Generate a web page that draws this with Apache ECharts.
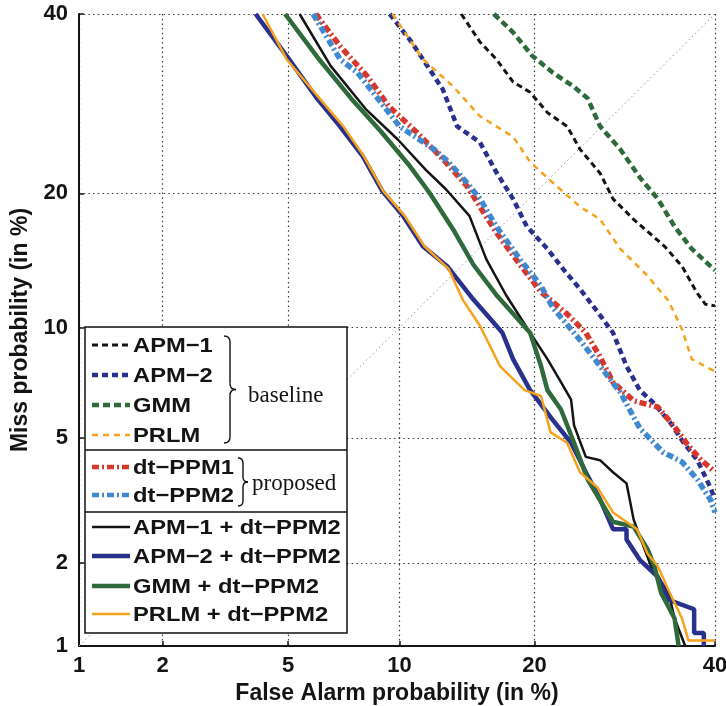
<!DOCTYPE html>
<html><head><meta charset="utf-8">
<script src="https://cdn.jsdelivr.net/npm/echarts@6/dist/echarts.min.js"></script>
<style>html,body{margin:0;padding:0;background:#fff}#c{width:726px;height:706px}</style>
</head><body><div id="c"></div>
<script>
// ---- data: [False Alarm %, Miss %] ----
const tickLabels = [1, 2, 5, 10, 20, 40];
const diagonal = [[1, 1], [40, 40]];
const apm1Base = [[14.0,40],[15.4,36.5],[16.7,34.4],[18.1,31.7],[19.6,30.5],[21.2,28.2],[23.1,26.7],[24.4,24.3],[26.5,21.9],[27.9,19.5],[30.2,17.7],[33.8,15.5],[35.9,14.0],[37.8,12.1],[38.8,11.4],[40,11.3]];
const apm2Base = [[9.45,40],[10.7,36.5],[12.7,30.85],[13.7,26.7],[15.4,25.0],[16.7,22.0],[18.1,19.5],[19.3,17.1],[21.2,15.3],[22.7,13.8],[24.4,12.4],[26.2,10.95],[27.9,9.7],[29.4,7.95],[30.9,6.85],[32.4,6.35],[34.5,5.55],[36.1,4.85],[37.8,4.3],[39.4,3.55],[40,3.25]];
const gmmBase = [[16.5,40],[18.1,37.7],[19.8,34.8],[21.7,32.8],[23.7,31.2],[25.2,29.8],[26.5,26.7],[28.7,24.3],[30.9,21.5],[33.0,19.5],[35.0,17.1],[37.1,15.3],[39.8,13.8],[40,13.7]];
const prlmBase = [[9.6,40],[11.4,34.4],[13.4,31.2],[15.4,27.8],[18.1,25.6],[19.6,23.0],[21.7,21.0],[24.4,18.8],[26.5,17.7],[28.7,15.3],[31.8,13.3],[34.3,11.6],[35.9,9.9],[37.1,8.3],[39.2,7.85],[40,7.7]];
const dtPpm1 = [[6.0,40],[7.0,36.0],[8.3,32.3],[9.4,28.9],[11.0,26.1],[12.7,23.3],[14.4,20.7],[15.4,18.8],[16.7,16.6],[18.7,14.1],[20.6,12.2],[23.1,10.8],[25.0,9.7],[26.4,8.5],[27.9,7.2],[30.2,6.4],[33.0,6.15],[35.0,5.4],[36.7,4.75],[38.3,4.3],[39.8,4.0]];
const dtPpm2 = [[5.9,40],[7.0,34.4],[7.8,32.8],[10.0,26.7],[12.1,24.3],[13.1,23.0],[14.4,21.0],[15.4,19.5],[16.7,17.1],[18.7,14.5],[20.6,12.6],[21.7,11.2],[24.4,9.3],[26.5,7.95],[28.7,6.75],[30.9,5.35],[33.6,4.55],[35.9,4.25],[37.8,3.75],[39.4,3.25],[40,2.95]];
const apm1Fused = [[5.4,40],[6.6,33.6],[8.2,28.6],[9.9,25.3],[11.6,22.2],[12.9,20.4],[14.6,18.0],[15.9,14.5],[17.5,12.0],[19.4,9.9],[21.2,8.3],[22.5,7.2],[23.5,6.45],[23.8,5.45],[25.0,4.4],[26.5,4.3],[27.9,3.95],[29.4,3.65],[30.2,2.8],[31.4,2.25],[32.2,1.95],[34.3,1.57],[35.0,1.27],[36.3,1.0]];
const apm2Fused = [[4.0,40],[4.95,34.8],[6.05,29.8],[7.0,26.7],[8.05,23.6],[9.05,20.2],[10.2,18.0],[11.4,15.5],[13.0,14.0],[14.9,11.7],[17.2,9.7],[18.1,8.3],[19.6,6.85],[21.7,5.65],[23.5,4.85],[25.2,3.85],[26.5,3.25],[27.9,2.6],[29.4,2.6],[29.4,2.4],[30.9,2.05],[33.0,1.79],[34.3,1.48],[37.4,1.37],[37.4,1.12],[38.6,1.12],[38.6,1.0]];
const gmmFused = [[4.9,40],[6.05,34.7],[7.5,29.8],[9.0,26.1],[10.6,22.6],[11.8,20.1],[13.5,16.7],[14.9,14.1],[16.7,12.0],[19.6,9.7],[20.6,7.95],[21.2,6.85],[22.5,6.05],[23.8,4.85],[25.2,3.75],[27.9,2.75],[30.2,2.65],[31.8,2.23],[32.6,1.95],[33.4,1.57],[35.0,1.27],[35.5,1.0]];
const prlmFused = [[4.2,40],[4.95,34.4],[6.15,29.8],[7.15,26.7],[8.1,23.6],[9.1,20.2],[10.3,18.0],[11.5,15.5],[13.1,13.8],[14.1,11.7],[15.4,10.1],[17.0,7.95],[19.1,6.85],[20.6,6.6],[21.5,5.2],[23.1,4.85],[24.4,3.95],[26.2,3.55],[27.9,2.95],[30.6,2.6],[31.8,2.15],[33.0,1.95],[34.3,1.6],[35.9,1.27],[36.7,1.05],[40,1.05]];

// ---- inverse normal CDF (DET / probit scale) ----
function probit(p){
  const a=[-3.969683028665376e+01,2.209460984245205e+02,-2.759285104469687e+02,1.383577518672690e+02,-3.066479806614716e+01,2.506628277459239e+00];
  const b=[-5.447609879822406e+01,1.615858368580409e+02,-1.556989798598866e+02,6.680131188771972e+01,-1.328068155288572e+01];
  const c=[-7.784894002430293e-03,-3.223964580411365e-01,-2.400758277161838e+00,-2.549732539343734e+00,4.374664141464968e+00,2.938163982698783e+00];
  const d=[7.784695709041462e-03,3.224671290700398e-01,2.445134137142996e+00,3.754408661907416e+00];
  const pl=0.02425; let q,r;
  if(p<pl){q=Math.sqrt(-2*Math.log(p));return (((((c[0]*q+c[1])*q+c[2])*q+c[3])*q+c[4])*q+c[5])/((((d[0]*q+d[1])*q+d[2])*q+d[3])*q+1);}
  if(p>1-pl){q=Math.sqrt(-2*Math.log(1-p));return -(((((c[0]*q+c[1])*q+c[2])*q+c[3])*q+c[4])*q+c[5])/((((d[0]*q+d[1])*q+d[2])*q+d[3])*q+1);}
  q=p-0.5;r=q*q;
  return (((((a[0]*r+a[1])*r+a[2])*r+a[3])*r+a[4])*r+a[5])*q/(((((b[0]*r+b[1])*r+b[2])*r+b[3])*r+b[4])*r+1);
}
const toZ = pts => pts.map(([x,y]) => [probit(x/100), probit(y/100)]);
const tickZ = tickLabels.map(v => probit(v/100));
const zMin = probit(tickLabels[0]/100), zMax = probit(tickLabels[tickLabels.length-1]/100);
function fmt(v){ let best=0, bd=1e9; tickZ.forEach((z,i)=>{const dd=Math.abs(z-v); if(dd<bd){bd=dd;best=i;}}); return String(tickLabels[best]); }

const C = {black:'#141414', navy:'#2a318c', green:'#2e6a3b', orange:'#f6a21c', red:'#d8372b', lblue:'#3f89d0'};
const DD = [7,3,2,3];
const defs = [
  {name:'APM−1', data:apm1Base, color:C.black, width:3, dash:[6,4]},
  {name:'APM−2', data:apm2Base, color:C.navy, width:4.5, dash:[6,4]},
  {name:'GMM', data:gmmBase, color:C.green, width:4.5, dash:[7,4]},
  {name:'PRLM', data:prlmBase, color:C.orange, width:2.5, dash:[6,5]},
  {name:'dt−PPM1', data:dtPpm1, color:C.red, width:5.5, dash:DD},
  {name:'dt−PPM2', data:dtPpm2, color:C.lblue, width:5.5, dash:DD},
  {name:'APM−1 + dt−PPM2', data:apm1Fused, color:C.black, width:2.5, dash:'solid'},
  {name:'APM−2 + dt−PPM2', data:apm2Fused, color:C.navy, width:4.5, dash:'solid'},
  {name:'GMM + dt−PPM2', data:gmmFused, color:C.green, width:4.5, dash:'solid'},
  {name:'PRLM + dt−PPM2', data:prlmFused, color:C.orange, width:2.5, dash:'solid'}
];

const series = [{
  type:'line', name:'diag', data:toZ(diagonal), symbol:'none', silent:true, z:1,
  lineStyle:{color:'#9a9a9a', width:1, type:[1.5,3]}
}].concat(defs.map((d,i)=>({
  type:'line', name:d.name, data:toZ(d.data), symbol:'none', z:2+i,
  lineStyle:{color:d.color, width:d.width, type:d.dash}
})));

// ---- custom legend ----
const LF = 'bold 21px "Liberation Sans", Arial, Helvetica, sans-serif';
const legendY = [345, 375, 405, 435, 467, 495, 527, 556, 586, 614];
const g = [
  {type:'rect', shape:{x:85,y:327,width:262,height:306}, style:{fill:'#fff', stroke:'#111', lineWidth:1.5}, z:100},
  {type:'line', shape:{x1:85,y1:450,x2:347,y2:450}, style:{stroke:'#111', lineWidth:1.5}, z:101},
  {type:'line', shape:{x1:85,y1:512,x2:347,y2:512}, style:{stroke:'#111', lineWidth:1.5}, z:101}
];
defs.forEach((d,i)=>{
  const y = legendY[i];
  g.push({type:'line', shape:{x1:92,y1:y,x2:130,y2:y}, style:{stroke:d.color, lineWidth:Math.min(d.width,4.5), lineDash: d.dash==='solid'?null:d.dash}, z:102});
  g.push({type:'text', x:133, y:y+1, scaleX:1.13, style:{text:d.name, x:0, y:0, font:LF, fill:'#141414', align:'left', verticalAlign:'middle'}, z:102});
});
function brace(x0, top, bot, w){
  const xm = x0 + w/2, mid = (top+bot)/2, r = w/2, st = {stroke:'#111', lineWidth:1.4, fill:null};
  return [
    {type:'bezierCurve', shape:{x1:x0,y1:top,cpx1:xm,cpy1:top,x2:xm,y2:top+r}, style:st, z:102},
    {type:'line', shape:{x1:xm,y1:top+r,x2:xm,y2:mid-r}, style:st, z:102},
    {type:'bezierCurve', shape:{x1:xm,y1:mid-r,cpx1:xm,cpy1:mid,x2:x0+w,y2:mid}, style:st, z:102},
    {type:'bezierCurve', shape:{x1:x0+w,y1:mid,cpx1:xm,cpy1:mid,x2:xm,y2:mid+r}, style:st, z:102},
    {type:'line', shape:{x1:xm,y1:mid+r,x2:xm,y2:bot-r}, style:st, z:102},
    {type:'bezierCurve', shape:{x1:xm,y1:bot-r,cpx1:xm,cpy1:bot,x2:x0,y2:bot}, style:st, z:102}
  ];
}
g.push(...brace(224, 336, 443, 12));
g.push(...brace(238, 458, 506, 10));
const SF = '23px "Liberation Serif", "Times New Roman", serif';
g.push({type:'text', style:{text:'baseline', x:248, y:396, font:SF, fill:'#141414', align:'left', verticalAlign:'middle'}, z:102});
g.push({type:'text', style:{text:'proposed', x:252, y:484, font:SF, fill:'#141414', align:'left', verticalAlign:'middle'}, z:102});

const FF = '"Liberation Sans", Arial, Helvetica, sans-serif';
const axisCommon = {
  type:'value', min:zMin, max:zMax, nameLocation:'middle',
  nameTextStyle:{fontFamily:FF, fontWeight:'bold', fontSize:23, color:'#141414'},
  axisLine:{show:true, lineStyle:{color:'#141414', width:2}},
  axisTick:{show:true, inside:true, length:5, customValues:tickZ, lineStyle:{color:'#141414', width:1.5}},
  axisLabel:{customValues:tickZ, formatter:fmt, fontFamily:FF, fontWeight:'bold', fontSize:22, color:'#141414'},
  splitLine:{show:true, lineStyle:{color:'#3a3a3a', width:1.2, type:[1.5,3.2]}}
};
const option = {
  animation:false,
  backgroundColor:'#fff',
  grid:{left:79, right:11, top:14, bottom:60, containLabel:false, outerBoundsMode:'none'},
  xAxis:Object.assign({}, axisCommon, {name:'False Alarm probability (in %)', nameGap:28,
    axisLabel:Object.assign({}, axisCommon.axisLabel, {margin:9})}),
  yAxis:Object.assign({}, axisCommon, {name:'Miss probability (in %)', nameGap:44,
    axisLabel:Object.assign({}, axisCommon.axisLabel, {margin:11})}),
  series:series,
  graphic:{elements:g}
};
const chart = echarts.init(document.getElementById('c'), null, {renderer:'canvas'});
chart.setOption(option);
</script></body></html>
